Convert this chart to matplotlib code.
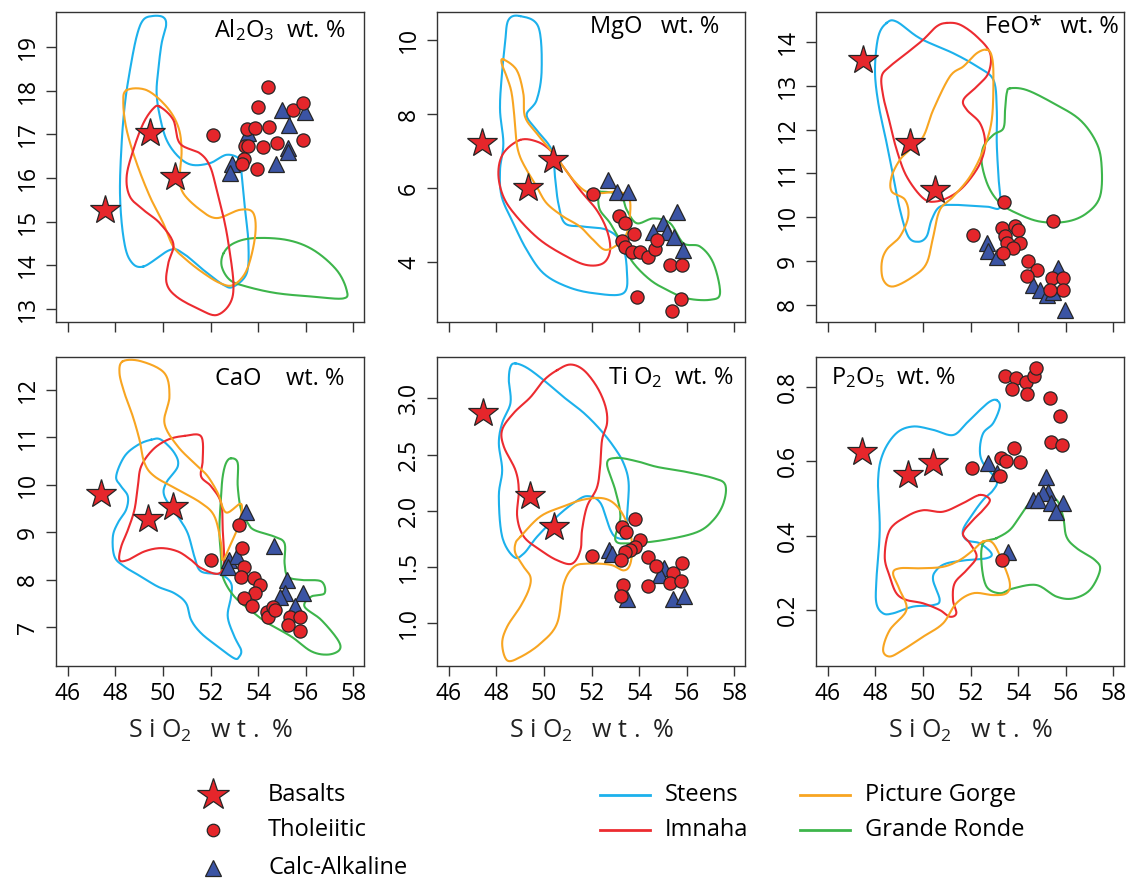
import numpy as np
import matplotlib
matplotlib.use('Agg')
import matplotlib.pyplot as plt

plt.rcParams['font.family'] = ['Open Sans', 'DejaVu Sans']
plt.rcParams['mathtext.default'] = 'regular'

C_STEENS = '#1cb1ec'
C_IMNAHA = '#ec2b30'
C_PG = '#f8a521'
C_GR = '#3db54b'
C_RED = '#e5262b'
C_BLUE = '#3b54a4'
EDGE = '#262626'

#%% Al2O3
al_bas_si = [47.56, 49.45, 50.50]
al_bas = [15.27, 17.02, 16.03]
al_thol_si = [54.43, 54.01, 55.48, 55.87, 52.12, 53.55, 53.87, 54.47, 53.45, 53.59,
              54.22, 54.78, 55.90, 53.42, 53.31, 53.94]
al_thol = [18.08, 17.63, 17.56, 17.72, 16.98, 17.11, 17.14, 17.16, 16.72, 16.72,
           16.70, 16.81, 16.87, 16.43, 16.32, 16.20]
al_calc_si = [54.99, 55.97, 55.31, 53.59, 55.24, 55.24, 54.75, 52.89, 52.82]
al_calc = [17.56, 17.52, 17.21, 17.04, 16.68, 16.60, 16.33, 16.33, 16.12]

al_steens = [(49.17, 13.97), (50.29, 14.35), (50.85, 14.27), (51.70, 13.89), (52.54, 13.55),
             (52.96, 13.51), (53.52, 13.82), (53.59, 14.50), (53.45, 15.27), (53.31, 16.03),
             (53.24, 16.41), (52.68, 16.53), (51.98, 16.34), (51.21, 16.30), (50.64, 16.49),
             (50.15, 16.87), (49.87, 17.40), (49.73, 17.94), (49.80, 18.47), (49.94, 19.08),
             (50.13, 19.50), (50.01, 19.68), (49.59, 19.71), (49.17, 19.62), (48.89, 19.24),
             (48.61, 18.47), (48.40, 17.71), (48.26, 16.79), (48.19, 15.65), (48.33, 14.66),
             (48.61, 14.12)]
al_pg = [(48.47, 18.01), (49.31, 18.01), (50.15, 17.63), (50.64, 17.17), (50.78, 16.64),
         (50.71, 16.03), (50.85, 15.65), (51.56, 15.27), (52.26, 15.08), (53.24, 15.27),
         (53.80, 15.19), (53.87, 14.66), (53.52, 13.89), (52.96, 13.55), (52.40, 13.59),
         (51.70, 13.82), (50.99, 14.12), (50.43, 14.43), (50.01, 14.96), (49.45, 15.57),
         (48.89, 16.34), (48.47, 17.10), (48.33, 17.71)]
al_imnaha = [(49.87, 17.63), (50.43, 17.33), (50.71, 16.79), (51.56, 16.56), (51.98, 16.26),
             (52.26, 15.72), (52.54, 15.11), (52.75, 14.50), (52.96, 13.59), (52.82, 13.13),
             (52.26, 12.86), (51.56, 12.98), (50.57, 13.28), (50.15, 13.59), (50.22, 14.04),
             (50.43, 14.50), (49.87, 14.96), (49.17, 15.27), (48.61, 15.57), (48.47, 16.03),
             (48.75, 16.64), (49.17, 17.25), (49.59, 17.59)]
al_gr = [(52.54, 14.27), (52.96, 14.50), (53.80, 14.62), (55.20, 14.58), (56.32, 14.35),
         (57.30, 13.89), (57.72, 13.43), (57.58, 13.24), (56.32, 13.28), (54.78, 13.36),
         (53.52, 13.51), (52.82, 13.66), (52.47, 13.97)]

#%% MgO
mg_bas_si = [47.38, 49.34, 50.39]
mg_bas = [7.21, 5.99, 6.76]
mg_thol_si = [52.05, 53.17, 53.41, 53.78, 53.27, 53.42, 53.70, 54.04, 54.39, 54.67,
              54.74, 55.30, 55.80, 53.90, 55.75, 55.40]
mg_thol = [5.84, 5.25, 5.05, 4.76, 4.57, 4.42, 4.26, 4.27, 4.15, 4.35,
           4.60, 3.91, 3.91, 3.05, 3.01, 2.68]
mg_calc_si = [52.70, 53.05, 53.52, 55.61, 55.02, 54.60, 55.16, 55.47, 55.86]
mg_calc = [6.22, 5.90, 5.90, 5.36, 5.05, 4.80, 4.82, 4.69, 4.33]

mg_steens = [(48.99, 10.65), (49.76, 10.36), (49.90, 9.19), (49.69, 8.38), (49.27, 7.98),
             (49.69, 7.57), (50.32, 7.03), (50.46, 6.31), (50.60, 5.59), (50.88, 5.05),
             (51.65, 4.96), (52.64, 4.87), (53.27, 4.51), (53.48, 3.79), (53.34, 3.16),
             (52.07, 3.16), (50.95, 3.34), (49.97, 3.70), (49.27, 4.33), (48.71, 5.05),
             (48.22, 5.77), (48.15, 6.49), (48.29, 7.21), (48.15, 8.11), (48.22, 9.01),
             (48.36, 9.91), (48.50, 10.54)]
mg_pg = [(48.29, 9.48), (48.85, 9.19), (49.13, 8.56), (49.20, 7.93), (49.69, 7.48),
         (50.39, 6.94), (51.23, 6.22), (51.79, 5.90), (52.35, 5.86), (53.06, 5.90),
         (53.55, 5.77), (53.62, 5.32), (53.41, 4.69), (52.64, 4.33), (52.07, 4.60),
         (51.51, 4.96), (50.81, 5.23), (50.11, 5.59), (49.69, 6.04), (49.27, 6.49),
         (48.99, 6.85), (48.85, 7.21), (48.78, 7.75), (48.64, 8.56), (48.43, 9.01),
         (48.22, 9.37)]
mg_imnaha = [(48.99, 7.30), (49.69, 7.26), (50.25, 7.03), (50.81, 6.58), (51.51, 5.95),
             (52.21, 5.41), (52.64, 4.87), (52.78, 4.33), (52.49, 3.97), (51.79, 3.92),
             (50.95, 4.15), (49.83, 4.60), (48.85, 5.23), (48.29, 5.77), (48.08, 6.40),
             (48.29, 6.94)]
mg_gr = [(52.35, 5.90), (53.20, 5.81), (53.48, 5.41), (53.90, 5.05), (54.60, 5.18),
         (55.30, 5.05), (55.86, 4.51), (56.56, 4.42), (57.12, 3.97), (57.40, 3.16),
         (56.98, 2.98), (56.00, 3.02), (55.16, 3.25), (54.46, 3.52), (53.76, 3.97),
         (53.27, 4.51), (52.78, 5.05), (52.35, 5.41), (52.28, 5.77)]

#%% FeO*
fe_bas_si = [47.49, 49.45, 50.50]
fe_bas = [13.59, 11.69, 10.62]
fe_thol_si = [53.42, 55.45, 52.12, 53.31, 53.87, 54.01, 53.45, 53.52, 54.08, 53.80,
              53.35, 54.43, 54.78, 54.36, 55.41, 55.87, 55.87, 55.34]
fe_thol = [10.34, 9.92, 9.60, 9.75, 9.80, 9.71, 9.56, 9.41, 9.41, 9.29,
           9.18, 8.99, 8.80, 8.65, 8.61, 8.61, 8.34, 8.34]
fe_calc_si = [52.68, 52.75, 53.10, 55.66, 54.64, 54.92, 55.20, 55.48, 55.97]
fe_calc = [9.41, 9.22, 9.10, 8.84, 8.46, 8.34, 8.23, 8.30, 7.89]

fe_steens = [(48.47, 14.43), (48.89, 14.46), (49.87, 14.08), (51.27, 13.74), (52.26, 13.44),
             (52.96, 13.13), (53.10, 12.45), (53.10, 11.69), (53.17, 10.93), (53.24, 10.24),
             (52.68, 10.24), (51.41, 10.28), (50.71, 10.24), (50.36, 9.94), (50.15, 9.56),
             (49.80, 9.44), (49.38, 9.56), (49.03, 10.17), (48.75, 10.93), (48.47, 11.69),
             (48.12, 12.60), (47.98, 13.36), (48.12, 14.12)]
fe_imnaha = [(50.99, 14.43), (51.56, 14.39), (52.26, 14.12), (52.82, 13.74), (52.75, 13.29),
             (52.26, 12.98), (51.70, 12.68), (51.84, 12.45), (52.40, 12.14), (52.61, 11.69),
             (52.40, 11.23), (51.84, 10.78), (51.27, 10.51), (50.57, 10.36), (50.01, 10.43),
             (49.31, 10.93), (48.89, 11.54), (48.61, 12.14), (48.33, 12.75), (48.26, 13.21),
             (48.61, 13.44), (49.31, 13.74), (50.01, 14.05), (50.57, 14.35)]
fe_pg = [(52.68, 13.82), (52.89, 13.67), (52.96, 13.21), (52.89, 12.22), (52.54, 11.54),
         (51.98, 10.93), (51.27, 10.47), (50.71, 10.17), (50.43, 9.56), (50.15, 8.95),
         (49.59, 8.65), (48.75, 8.42), (48.33, 8.57), (48.26, 8.95), (48.47, 9.26),
         (49.03, 9.56), (49.38, 10.02), (49.24, 10.40), (48.68, 10.59), (48.68, 10.93),
         (49.03, 11.31), (49.45, 11.54), (50.01, 11.84), (50.43, 12.45), (51.13, 13.21),
         (51.70, 13.44), (52.26, 13.74)]
fe_gr = [(53.66, 12.94), (54.36, 12.90), (55.48, 12.60), (56.60, 12.22), (57.30, 11.69),
         (57.51, 11.16), (57.44, 10.47), (56.88, 10.09), (56.04, 9.90), (54.92, 9.90),
         (53.94, 10.09), (53.24, 10.32), (52.75, 10.70), (52.47, 11.23), (52.54, 11.61),
         (52.96, 11.88), (53.38, 12.03), (53.45, 12.45), (53.52, 12.83)]

#%% CaO
ca_bas_si = [47.40, 49.36, 50.41]
ca_bas = [9.81, 9.28, 9.54]
ca_thol_si = [53.21, 53.31, 52.00, 53.42, 53.26, 53.82, 54.07, 53.87, 53.40, 53.73,
              54.36, 54.40, 54.62, 54.71, 55.32, 55.27, 55.78, 55.74]
ca_thol = [9.15, 8.67, 8.42, 8.27, 8.07, 8.04, 7.90, 7.72, 7.62, 7.46,
           7.32, 7.22, 7.44, 7.36, 7.23, 7.06, 7.22, 6.92]
ca_calc_si = [53.49, 54.66, 52.77, 53.10, 52.72, 55.22, 55.13, 55.88, 54.90, 55.55]
ca_calc = [9.44, 8.72, 8.42, 8.51, 8.27, 7.99, 7.72, 7.72, 7.65, 7.46]

ca_pg = [(48.31, 12.60), (49.08, 12.60), (50.06, 12.35), (50.27, 11.86), (50.06, 11.30),
         (50.62, 10.81), (51.46, 10.39), (51.88, 10.18), (52.30, 9.83), (52.65, 9.42),
         (53.28, 9.60), (53.21, 9.20), (52.86, 8.77), (52.51, 8.42), (52.44, 8.77),
         (52.16, 9.34), (51.60, 9.62), (50.62, 9.90), (49.64, 10.18), (49.22, 10.46),
         (49.01, 10.95), (48.73, 11.44), (48.38, 11.93), (48.17, 12.35)]
ca_imnaha = [(50.90, 11.03), (51.60, 11.02), (51.67, 10.53), (51.60, 10.18), (52.02, 9.97),
             (52.44, 9.62), (52.51, 9.05), (52.56, 8.35), (52.30, 8.13), (51.60, 8.25),
             (51.18, 8.42), (50.62, 8.60), (49.92, 8.67), (49.22, 8.60), (48.52, 8.42),
             (48.17, 8.42), (48.24, 8.70), (48.52, 9.05), (48.80, 9.48), (48.94, 9.97),
             (49.08, 10.39), (49.57, 10.74), (50.20, 10.95)]
ca_steens = [(49.50, 10.95), (49.92, 10.95), (50.48, 10.67), (50.62, 10.39), (50.13, 10.04),
             (50.06, 9.76), (50.62, 9.34), (51.04, 8.98), (51.32, 8.49), (51.60, 8.18),
             (52.44, 8.11), (52.86, 7.93), (52.86, 7.65), (52.72, 7.23), (53.00, 6.81),
             (53.28, 6.53), (53.21, 6.39), (53.00, 6.35), (52.30, 6.60), (51.60, 6.88),
             (51.18, 7.16), (50.97, 7.51), (50.48, 7.72), (49.78, 7.86), (49.08, 8.07),
             (48.38, 8.28), (47.96, 8.49), (47.89, 8.91), (48.10, 9.20), (48.45, 9.48),
             (48.52, 9.76), (48.24, 9.97), (48.03, 10.18), (48.38, 10.60), (48.94, 10.84)]
ca_gr = [(52.86, 10.56), (53.14, 10.46), (53.14, 9.97), (53.28, 9.48), (53.56, 9.20),
         (53.84, 9.05), (54.69, 8.91), (55.11, 8.77), (55.11, 8.35), (55.25, 8.07),
         (55.81, 8.00), (56.65, 7.97), (56.79, 7.72), (56.23, 7.65), (55.95, 7.44),
         (56.65, 7.16), (57.35, 6.74), (57.42, 6.53), (56.93, 6.43), (56.23, 6.50),
         (55.39, 6.81), (54.40, 7.09), (53.84, 7.30), (53.00, 7.65), (52.51, 8.07),
         (52.44, 8.49), (52.37, 9.05), (52.44, 9.76), (52.51, 10.18), (52.65, 10.46)]

#%% TiO2
ti_bas_si = [47.44, 49.43, 50.44]
ti_bas = [2.87, 2.13, 1.86]
ti_thol_si = [52.02, 53.28, 53.45, 53.84, 54.05, 53.84, 53.63, 53.42, 53.24, 54.36,
              54.72, 55.80, 55.42, 55.28, 55.76, 54.36, 53.32, 53.24]
ti_thol = [1.60, 1.86, 1.81, 1.93, 1.74, 1.68, 1.65, 1.63, 1.56, 1.59,
           1.51, 1.54, 1.45, 1.36, 1.38, 1.33, 1.34, 1.24]
ti_calc_si = [52.72, 52.86, 53.49, 55.03, 54.89, 55.42, 55.87]
ti_calc = [1.65, 1.62, 1.22, 1.49, 1.43, 1.22, 1.24]

ti_steens = [(48.80, 3.31), (49.29, 3.27), (49.99, 3.16), (50.83, 3.01), (51.67, 2.87),
             (52.37, 2.72), (52.93, 2.57), (53.35, 2.42), (53.56, 2.24), (53.49, 1.95),
             (53.49, 1.77), (53.07, 1.76), (52.79, 1.83), (52.37, 2.07), (51.81, 2.13),
             (51.25, 2.07), (50.55, 1.95), (49.71, 1.77), (49.15, 1.62), (48.73, 1.59),
             (48.24, 1.77), (48.10, 2.13), (48.24, 2.36), (48.10, 2.60), (48.24, 2.78),
             (48.59, 2.96), (48.52, 3.16), (48.59, 3.28)]
ti_imnaha = [(50.55, 3.25), (51.11, 3.30), (51.67, 3.25), (52.23, 3.10), (52.58, 2.93),
             (52.65, 2.78), (52.44, 2.63), (52.37, 2.42), (52.23, 2.21), (51.81, 2.04),
             (51.60, 1.83), (51.53, 1.65), (51.18, 1.53), (50.55, 1.56), (49.85, 1.65),
             (49.15, 1.77), (48.87, 1.95), (48.94, 2.18), (48.80, 2.36), (48.31, 2.57),
             (48.24, 2.72), (48.73, 2.87), (49.43, 3.01), (49.99, 3.16)]
ti_pg = [(49.01, 1.77), (49.85, 1.95), (50.83, 2.04), (51.67, 2.10), (52.51, 2.11),
         (53.07, 2.04), (53.49, 1.89), (53.70, 1.71), (53.63, 1.53), (53.35, 1.47),
         (52.79, 1.52), (51.81, 1.53), (51.25, 1.50), (50.83, 1.35), (50.55, 1.00),
         (49.85, 0.82), (49.01, 0.70), (48.45, 0.67), (48.24, 0.82), (48.45, 0.97),
         (49.01, 1.15), (49.36, 1.30), (49.43, 1.41), (49.15, 1.50), (48.80, 1.62),
         (48.80, 1.71)]
ti_gr = [(53.07, 2.47), (53.91, 2.44), (54.75, 2.39), (55.87, 2.35), (57.13, 2.29),
         (57.62, 2.23), (57.55, 2.07), (57.13, 1.92), (56.43, 1.81), (55.03, 1.74),
         (53.63, 1.71), (53.00, 1.74), (53.21, 1.95), (53.00, 2.18), (52.65, 2.42)]

#%% P2O5
p_bas_si = [47.45, 49.37, 50.42]
p_bas = [0.625, 0.563, 0.594]
p_thol_si = [53.44, 53.90, 53.76, 54.35, 54.38, 54.66, 54.73, 55.33, 55.78, 55.40,
             55.83, 53.83, 53.27, 53.48, 54.07, 52.04, 53.23, 53.34]
p_thol = [0.829, 0.824, 0.793, 0.813, 0.780, 0.829, 0.851, 0.770, 0.721, 0.652,
          0.643, 0.634, 0.607, 0.599, 0.597, 0.581, 0.560, 0.333]
p_calc_si = [52.74, 53.09, 55.19, 55.26, 55.05, 54.63, 54.84, 55.36, 55.90, 55.61, 53.58]
p_calc = [0.596, 0.567, 0.558, 0.518, 0.513, 0.496, 0.496, 0.487, 0.487, 0.464, 0.357]

p_steens = [(53.09, 0.764), (53.23, 0.746), (52.95, 0.702), (52.53, 0.675), (52.39, 0.630),
            (52.53, 0.594), (53.09, 0.549), (52.95, 0.522), (52.53, 0.496), (52.11, 0.460),
            (51.68, 0.415), (51.83, 0.388), (52.39, 0.379), (52.88, 0.352), (52.67, 0.339),
            (51.83, 0.334), (50.98, 0.325), (50.56, 0.307), (50.42, 0.281), (50.70, 0.227),
            (50.42, 0.213), (49.58, 0.209), (48.74, 0.191), (48.32, 0.191), (48.04, 0.218),
            (48.04, 0.281), (48.18, 0.415), (48.11, 0.549), (48.32, 0.621), (48.88, 0.675),
            (49.58, 0.693), (50.42, 0.684), (51.26, 0.670), (51.83, 0.702), (52.39, 0.737),
            (52.81, 0.760)]
p_imnaha = [(52.39, 0.509), (52.81, 0.496), (52.53, 0.469), (52.11, 0.442), (51.68, 0.406),
            (51.97, 0.379), (52.25, 0.343), (51.83, 0.307), (51.33, 0.272), (51.26, 0.227),
            (51.40, 0.191), (51.12, 0.182), (50.70, 0.200), (50.00, 0.218), (49.30, 0.227),
            (48.88, 0.245), (48.60, 0.290), (48.39, 0.343), (48.60, 0.415), (49.30, 0.451),
            (50.00, 0.468), (50.84, 0.464), (51.68, 0.487)]
p_pg = [(52.53, 0.384), (52.95, 0.379), (53.37, 0.325), (53.65, 0.272), (53.51, 0.245),
        (52.95, 0.240), (52.11, 0.245), (51.40, 0.218), (50.84, 0.164), (50.00, 0.128),
        (49.16, 0.093), (48.60, 0.075), (48.32, 0.093), (48.60, 0.146), (49.30, 0.200),
        (49.02, 0.254), (48.74, 0.298), (49.02, 0.312), (49.86, 0.312), (50.84, 0.316),
        (51.54, 0.334), (52.11, 0.361)]
p_gr = [(53.09, 0.393), (53.65, 0.415), (54.07, 0.451), (54.49, 0.487), (55.05, 0.505),
        (55.61, 0.496), (55.89, 0.451), (56.03, 0.397), (56.46, 0.366), (57.23, 0.334),
        (57.44, 0.307), (57.02, 0.254), (56.32, 0.231), (55.61, 0.236), (54.77, 0.267),
        (53.79, 0.258), (53.23, 0.245), (52.67, 0.263), (52.46, 0.325), (52.53, 0.379)]


def smooth_loop(pts, n=14):
    # closed Catmull-Rom curve through the outline points
    p1 = np.asarray(pts, float)
    p0 = np.roll(p1, 1, axis=0)
    p2 = np.roll(p1, -1, axis=0)
    p3 = np.roll(p1, -2, axis=0)
    t = np.linspace(0, 1, n, endpoint=False)[:, None, None]
    seg = 0.5 * (2 * p1 + (p2 - p0) * t + (2 * p0 - 5 * p1 + 4 * p2 - p3) * t ** 2
                 + (3 * p1 - p0 - 3 * p2 + p3) * t ** 3)
    curve = seg.transpose(1, 0, 2).reshape(-1, 2)
    curve = np.vstack([curve, curve[:1]])
    return curve[:, 0], curve[:, 1]


W, H = 1134, 883
fig = plt.figure(figsize=(W / 100, H / 100), dpi=100)

col_left = [56, 437, 816]
rows = [(12, 322), (357, 666)]
panel_w = 308

panels = [
    dict(row=0, col=0, ylim=(12.70, 19.80), yticks=[13, 14, 15, 16, 17, 18, 19], fmt='{:.0f}',
         bas=(al_bas_si, al_bas), thol=(al_thol_si, al_thol), calc=(al_calc_si, al_calc),
         fields=[(al_steens, C_STEENS), (al_gr, C_GR), (al_pg, C_PG), (al_imnaha, C_IMNAHA)],
         title='Al$_2$O$_3$  wt. %', tx=346, ty=30, ha='right'),
    dict(row=0, col=1, ylim=(2.38, 10.76), yticks=[4, 6, 8, 10], fmt='{:.0f}',
         bas=(mg_bas_si, mg_bas), thol=(mg_thol_si, mg_thol), calc=(mg_calc_si, mg_calc),
         fields=[(mg_steens, C_STEENS), (mg_gr, C_GR), (mg_imnaha, C_IMNAHA), (mg_pg, C_PG)],
         title='MgO   wt. %', tx=719, ty=27, ha='right'),
    dict(row=0, col=2, ylim=(7.61, 14.68), yticks=[8, 9, 10, 11, 12, 13, 14], fmt='{:.0f}',
         bas=(fe_bas_si, fe_bas), thol=(fe_thol_si, fe_thol), calc=(fe_calc_si, fe_calc),
         fields=[(fe_steens, C_STEENS), (fe_gr, C_GR), (fe_imnaha, C_IMNAHA), (fe_pg, C_PG)],
         title='FeO*   wt. %', tx=1119, ty=27, ha='right'),
    dict(row=1, col=0, ylim=(6.19, 12.69), yticks=[7, 8, 9, 10, 11, 12], fmt='{:.0f}',
         bas=(ca_bas_si, ca_bas), thol=(ca_thol_si, ca_thol), calc=(ca_calc_si, ca_calc),
         fields=[(ca_steens, C_STEENS), (ca_gr, C_GR), (ca_imnaha, C_IMNAHA), (ca_pg, C_PG)],
         title='CaO    wt. %', tx=344, ty=379, ha='right'),
    dict(row=1, col=1, ylim=(0.62, 3.367), yticks=[1.0, 1.5, 2.0, 2.5, 3.0], fmt='{:.1f}',
         bas=(ti_bas_si, ti_bas), thol=(ti_thol_si, ti_thol), calc=(ti_calc_si, ti_calc),
         fields=[(ti_steens, C_STEENS), (ti_gr, C_GR), (ti_imnaha, C_IMNAHA), (ti_pg, C_PG)],
         title='Ti O$_2$  wt. %', tx=733, ty=378, ha='right'),
    dict(row=1, col=2, ylim=(0.0495, 0.8797), yticks=[0.2, 0.4, 0.6, 0.8], fmt='{:.1f}',
         bas=(p_bas_si, p_bas), thol=(p_thol_si, p_thol), calc=(p_calc_si, p_calc),
         fields=[(p_steens, C_STEENS), (p_gr, C_GR), (p_imnaha, C_IMNAHA), (p_pg, C_PG)],
         title='P$_2$O$_5$  wt. %', tx=831, ty=378, ha='left'),
]

xticks = [46, 48, 50, 52, 54, 56, 58]

for p in panels:
    top, bot = rows[p['row']]
    left = col_left[p['col']]
    ax = fig.add_axes([left / W, 1 - bot / H, panel_w / W, (bot - top) / H])
    ax.set_xlim(45.5, 58.45)
    ax.set_ylim(*p['ylim'])

    for pts, col in p['fields']:
        xs, ys = smooth_loop(pts)
        ax.plot(xs, ys, color=col, lw=1.5, solid_joinstyle='round')

    ax.plot(*p['bas'], ls='none', marker='*', ms=22, mfc=C_RED, mec=EDGE, mew=0.9)
    ax.plot(*p['calc'], ls='none', marker='^', ms=11, mfc=C_BLUE, mec=EDGE, mew=0.9)
    ax.plot(*p['thol'], ls='none', marker='o', ms=9.5, mfc=C_RED, mec=EDGE, mew=0.9)

    ax.set_xticks(xticks)
    ax.set_yticks(p['yticks'])
    ax.set_yticklabels([p['fmt'].format(v) for v in p['yticks']], rotation=90, va='center')
    if p['row'] == 1:
        ax.set_xticklabels([str(v) for v in xticks])
    else:
        ax.set_xticklabels([])
    ax.tick_params(direction='out', length=7.5, width=1.0, color='#333333',
                   labelsize=16.5, pad=4)
    for s in ax.spines.values():
        s.set_color('#333333')
        s.set_linewidth(1.0)

    fig.text(p['tx'] / W, 1 - p['ty'] / H, p['title'], ha=p['ha'], va='center', fontsize=17)

    if p['row'] == 1:
        fig.text((left + panel_w / 2 + 1) / W, 1 - 731 / H, 'S i O$_2$   w t .  %',
                 ha='center', va='center', fontsize=18, color='#222222')

# legend, drawn on an overlay in pixel units
lax = fig.add_axes([0, 0, 1, 1])
lax.set_xlim(0, W)
lax.set_ylim(H, 0)
lax.axis('off')

sym_names = ['Basalts', 'Tholeiitic', 'Calc-Alkaline']
sym_marks = [('*', 24, C_RED), ('o', 9, C_RED), ('^', 11, C_BLUE)]
sym_y = [795, 830, 868]
for name, (m, ms, fc), yy in zip(sym_names, sym_marks, sym_y):
    lax.plot([213], [yy], ls='none', marker=m, ms=ms, mfc=fc, mec=EDGE, mew=0.9)
    lax.text(268, yy, name, ha='left', va='center', fontsize=17)

field_names = ['Steens', 'Imnaha', 'Picture Gorge', 'Grande Ronde']
field_cols = [C_STEENS, C_IMNAHA, C_PG, C_GR]
field_pos = [(600, 795), (600, 830), (800, 795), (800, 830)]
for name, col, (x0, yy) in zip(field_names, field_cols, field_pos):
    lax.plot([x0, x0 + 50], [yy, yy], color=col, lw=2.0)
    lax.text(x0 + 65, yy, name, ha='left', va='center', fontsize=17)

fig.savefig('out.png', dpi=100)
